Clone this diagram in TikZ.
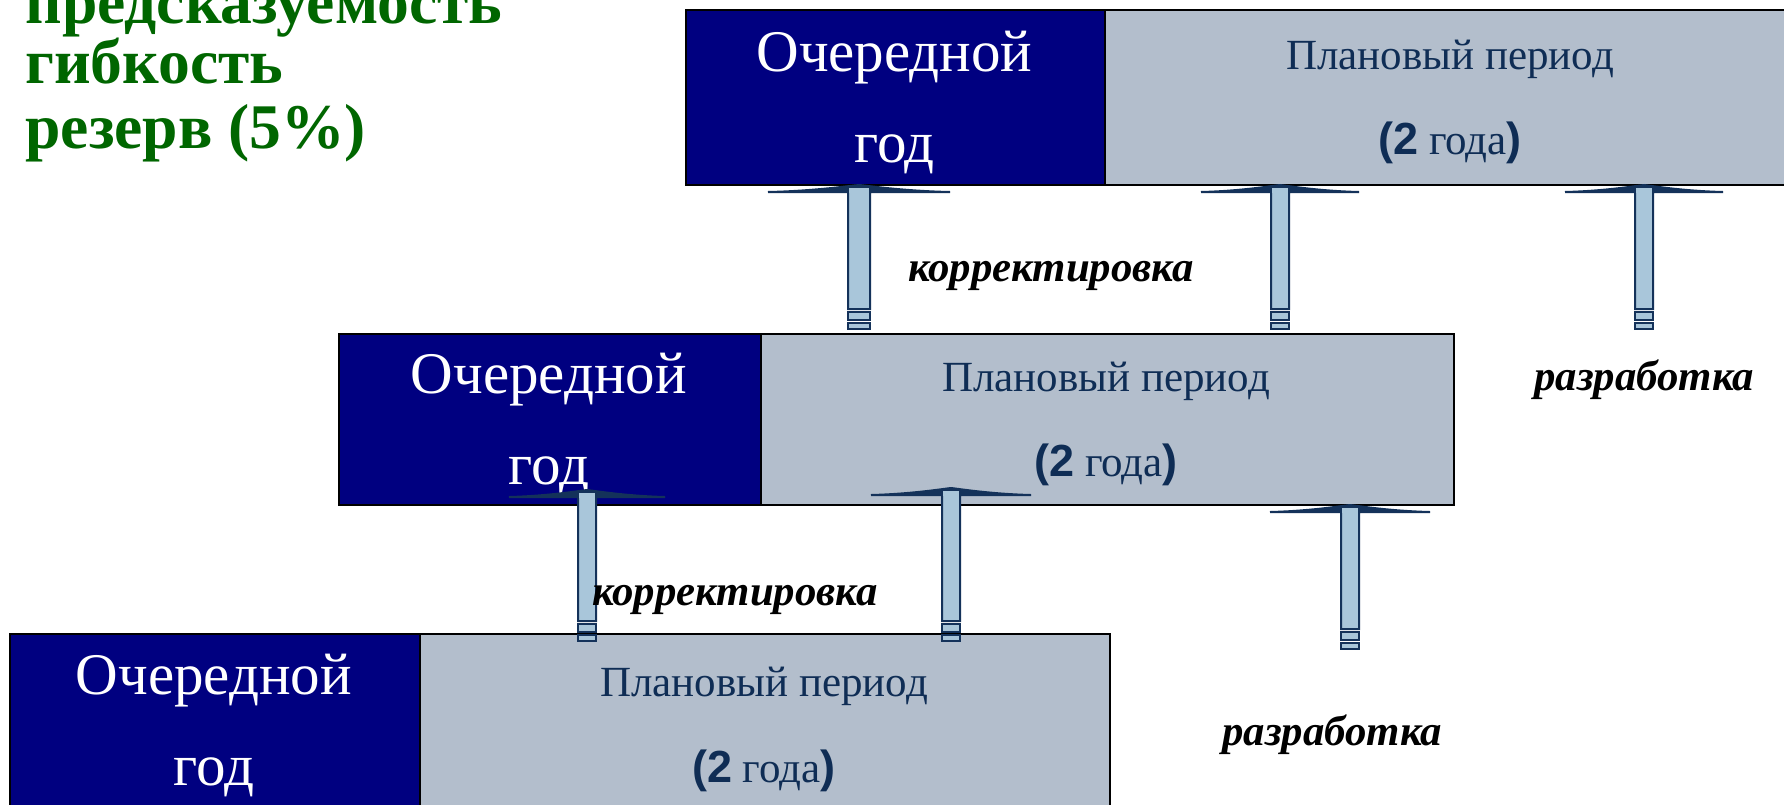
\documentclass[tikz,border=0pt]{standalone}
\usepackage{fontspec}
\setmainfont{Liberation Serif}
\newfontfamily\arialf{Liberation Sans}
\definecolor{darkbox}{RGB}{0,0,128}
\definecolor{lightbox}{RGB}{179,190,204}
\definecolor{plantxt}{RGB}{15,45,85}
\definecolor{arrfill}{RGB}{169,198,218}
\definecolor{arrline}{RGB}{20,50,90}
\definecolor{greentxt}{RGB}{0,102,0}
\newcommand\blockup[5]{% cx, apex y, bottom y, half shaft, half head
  \filldraw[arrowpart] (#1-#4,#3-20) -- (#1-#4,#2+7) -- (#1-#5,#2+7)
    .. controls (#1-#5/2,#2+6) and (#1-#4,#2+1) .. (#1,#2)
    .. controls (#1+#4,#2+1) and (#1+#5/2,#2+6) .. (#1+#5,#2+7)
    -- (#1+#4,#2+7) -- (#1+#4,#3-20) -- cycle;
  \fill[arrline] (#1-#5,#2+7)
    .. controls (#1-#5/2,#2+6) and (#1-#4,#2+1) .. (#1,#2)
    .. controls (#1+#4,#2+1) and (#1+#5/2,#2+6) .. (#1+#5,#2+7) -- cycle;
  \fill[arrfill] (#1-#4+1,#2+7.5) rectangle (#1+#4-1,#2+3);
  \filldraw[arrowpart] (#1-#4,#3-17) rectangle (#1+#4,#3-9);
  \filldraw[arrowpart] (#1-#4,#3-6) rectangle (#1+#4,#3);
}
\begin{document}
\begin{tikzpicture}[x=0.5pt,y=-0.5pt,
  darkpart/.style={draw=black, line width=1.2pt, fill=darkbox, inner sep=0pt, anchor=north west},
  lightpart/.style={draw=black, line width=1.2pt, fill=lightbox, inner sep=0pt, anchor=north west},
  ochtext/.style={text=white, font=\fontsize{29.5}{32}\selectfont, inner sep=0pt, anchor=base},
  plantext/.style={text=plantxt, font=\fontsize{21.5}{24}\selectfont, inner sep=0pt, anchor=base},
  lbl/.style={font=\fontsize{21.4}{25}\selectfont\bfseries\itshape, inner sep=0pt, anchor=base west},
  greenline/.style={text=greentxt, font=\fontsize{31.8}{34}\selectfont\bfseries, inner sep=0pt, anchor=base west},
  arrowpart/.style={fill=arrfill, draw=arrline, line width=1pt, line join=miter}
]
\path[use as bounding box] (0,0) rectangle (1784,804);
\clip (0,0) rectangle (1784,804);

% green heading
\node[greenline] (g1) at (25,23) {предсказуемость};
\node[greenline] (g2) at (25,83) {гибкость};
\node[greenline] (g3) at (25,148) {резерв (5\%)};

% top box
\node[darkpart, minimum width=209.5pt, minimum height=87.5pt] (topD) at (685,9) {};
\node[lightpart, minimum width=346pt, minimum height=87.5pt] (topL) at (1104,9) {};
\node[ochtext] (topO1) at (894.5,71) {Очередной};
\node[ochtext] (topO2) at (894.5,162) {год};
\node[plantext] (topP1) at (1450,69) {Плановый период};
\node[plantext] (topP2) at (1450,154) {{\arialf\bfseries\fontsize{22.5}{24}\selectfont(2} года{\arialf\bfseries\fontsize{22.5}{24}\selectfont)}};

% middle box
\node[darkpart, minimum width=211pt, minimum height=85.5pt] (midD) at (338,333) {};
\node[lightpart, minimum width=346.5pt, minimum height=85.5pt] (midL) at (760,333) {};
\node[ochtext] (midO1) at (549,393) {Очередной};
\node[ochtext] (midO2) at (549,484) {год};
\node[plantext] (midP1) at (1106,391) {Плановый период};
\node[plantext] (midP2) at (1106,476) {{\arialf\bfseries\fontsize{22.5}{24}\selectfont(2} года{\arialf\bfseries\fontsize{22.5}{24}\selectfont)}};

% bottom box
\node[darkpart, minimum width=205pt, minimum height=100pt] (botD) at (9,633) {};
\node[lightpart, minimum width=345pt, minimum height=100pt] (botL) at (419,633) {};
\node[ochtext] (botO1) at (214,694) {Очередной};
\node[ochtext] (botO2) at (214,785) {год};
\node[plantext] (botP1) at (764,696) {Плановый период};
\node[plantext] (botP2) at (764,782) {{\arialf\bfseries\fontsize{22.5}{24}\selectfont(2} года{\arialf\bfseries\fontsize{22.5}{24}\selectfont)}};

% arrows to the top box
\blockup{859}{185}{329}{11}{91}
\blockup{1280}{185}{329}{9}{79}
\blockup{1644}{185}{329}{9}{79}
% arrows to the middle box
\blockup{587}{490}{641}{9}{78}
\blockup{951}{488}{641}{9}{80}
\blockup{1350}{505}{649}{9}{80}

% labels
\node[lbl] (k1) at (908,281) {корректировка};
\node[lbl] (k2) at (592,605) {корректировка};
\node[lbl] (r1) at (1534,390) {разработка};
\node[lbl] (r2) at (1222,745) {разработка};
\end{tikzpicture}
\end{document}
